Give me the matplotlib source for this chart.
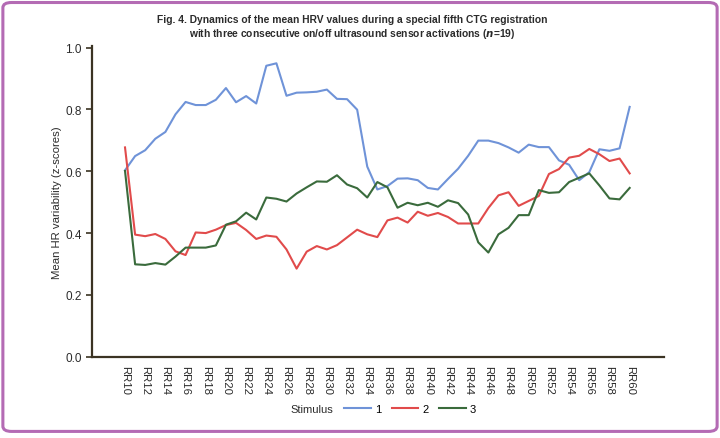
import matplotlib.pyplot as plt
import numpy as np
from matplotlib.patches import FancyBboxPatch
from matplotlib.lines import Line2D

plt.rcParams['font.family'] = ['Liberation Sans', 'DejaVu Sans']

# RR interval numbers (x categories), one point per interval
rr = np.arange(10, 61)
tick_pos = [10, 12, 14, 16, 18, 20, 22, 24, 26, 28, 30, 32, 34, 36, 38, 40,
            42, 44, 46, 48, 50, 52, 54, 56, 58, 60]
tick_labels = ['RR10', 'RR12', 'RR14', 'RR16', 'RR18', 'RR20', 'RR22', 'RR24',
               'RR26', 'RR28', 'RR30', 'RR32', 'RR34', 'RR36', 'RR38', 'RR40',
               'RR42', 'RR44', 'RR46', 'RR48', 'RR50', 'RR52', 'RR54', 'RR56',
               'RR58', 'RR60']

stim1 = [0.603, 0.649, 0.668, 0.705, 0.727, 0.784, 0.824, 0.814, 0.814, 0.831,
         0.869, 0.823, 0.843, 0.819, 0.941, 0.949, 0.844, 0.854, 0.855, 0.857,
         0.864, 0.834, 0.833, 0.799, 0.615, 0.541, 0.552, 0.576, 0.577, 0.571,
         0.546, 0.541, 0.575, 0.608, 0.650, 0.699, 0.699, 0.691, 0.677, 0.660,
         0.686, 0.678, 0.678, 0.635, 0.621, 0.571, 0.597, 0.671, 0.666, 0.674,
         0.808]
stim2 = [0.677, 0.395, 0.390, 0.397, 0.381, 0.341, 0.329, 0.402, 0.400, 0.411,
         0.426, 0.433, 0.410, 0.381, 0.392, 0.388, 0.347, 0.285, 0.340, 0.358,
         0.347, 0.361, 0.386, 0.411, 0.396, 0.387, 0.441, 0.450, 0.434, 0.469,
         0.456, 0.465, 0.452, 0.431, 0.431, 0.431, 0.481, 0.522, 0.532, 0.488,
         0.504, 0.520, 0.591, 0.607, 0.644, 0.650, 0.672, 0.655, 0.633, 0.641,
         0.593]
stim3 = [0.601, 0.299, 0.297, 0.303, 0.298, 0.324, 0.353, 0.353, 0.353, 0.360,
         0.427, 0.438, 0.466, 0.444, 0.515, 0.511, 0.502, 0.528, 0.548, 0.567,
         0.566, 0.587, 0.557, 0.545, 0.515, 0.565, 0.548, 0.482, 0.498, 0.490,
         0.498, 0.485, 0.506, 0.497, 0.460, 0.370, 0.337, 0.396, 0.417, 0.458,
         0.458, 0.539, 0.530, 0.532, 0.565, 0.579, 0.593, 0.554, 0.512, 0.509,
         0.546]

colors = ['#6f93d8', '#e14b4b', '#3a6b3c']
txt = '#2b2b2b'
axcol = '#3b3323'

fig = plt.figure(figsize=(7.2, 4.39), dpi=100)
ax = fig.add_axes([0.1278, 0.185, 0.7944, 0.708])

ax.plot(rr, stim1, color=colors[0], lw=1.5, label='1')
ax.plot(rr, stim2, color=colors[1], lw=1.5, label='2')
ax.plot(rr, stim3, color=colors[2], lw=1.5, label='3')

ax.set_xlim(6.73, 63.4)
ax.set_ylim(0, 1.005)
ax.set_yticks([0.0, 0.2, 0.4, 0.6, 0.8, 1.0])
ax.set_yticklabels(['0.0', '0.2', '0.4', '0.6', '0.8', '1.0'])
ax.set_xticks(tick_pos)
ax.set_xticklabels(tick_labels, rotation=270, va='top', ha='center')
ax.tick_params(axis='x', length=0, pad=6, labelsize=8.2, labelcolor=txt)
ax.tick_params(axis='y', length=4, width=1.2, color=axcol, labelsize=8.5, labelcolor=txt)

for s in ['top', 'right']:
    ax.spines[s].set_visible(False)
for s in ['left', 'bottom']:
    ax.spines[s].set_color(axcol)
    ax.spines[s].set_linewidth(1.6)

ax.set_ylabel('Mean HR variability (z-scores)', fontsize=8.2, color=txt, labelpad=2)

fig.text(0.489, 0.955, 'Fig. 4. Dynamics of the mean HRV values during a special fifth CTG registration',
         ha='center', va='center', fontsize=7.4, fontweight='bold', color=txt)
fig.text(0.489, 0.923, 'with three consecutive on/off ultrasound sensor activations ($\\mathbfit{n}$=19)',
         ha='center', va='center', fontsize=7.4, fontweight='bold', color=txt)

# legend along the bottom
fig.text(0.463, 0.066, 'Stimulus', ha='right', va='center', fontsize=8, color=txt)
handles = [Line2D([], [], color=c, lw=1.5) for c in colors]
fig.legend(handles, ['1', '2', '3'], loc='center left', bbox_to_anchor=(0.478, 0.066),
           ncol=3, frameon=False, fontsize=8, handlelength=2.4, handletextpad=0.4,
           columnspacing=0.9, borderaxespad=0, borderpad=0)

# rounded purple frame
frame = FancyBboxPatch((0.004, 0.015), 0.992, 0.977, boxstyle='round,pad=0,rounding_size=0.012',
                       transform=fig.transFigure, fill=False, edgecolor='#b46bb4', lw=2.2)
fig.patches.append(frame)

fig.savefig('out.png', dpi=100)
